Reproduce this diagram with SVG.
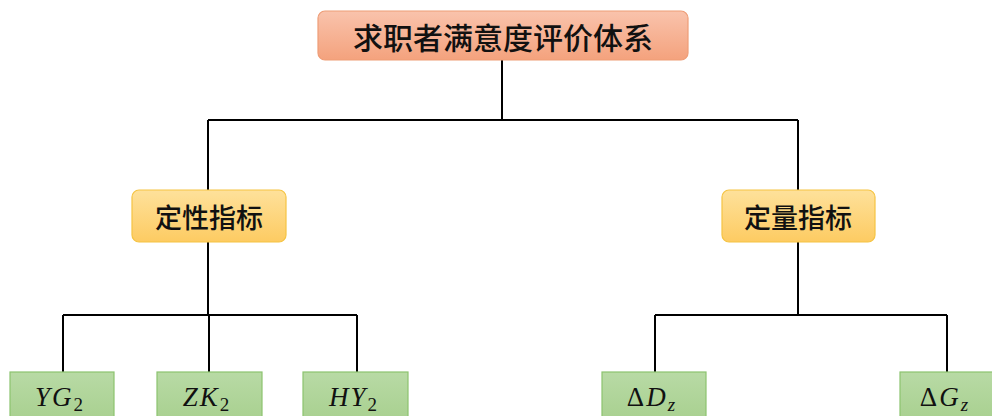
<svg xmlns="http://www.w3.org/2000/svg" width="992" height="416" viewBox="0 0 992 416">
<style>
.cn{font-family:"Noto Sans CJK SC","Noto Sans CJK JP",sans-serif;fill:#111;text-anchor:middle;dominant-baseline:central;font-weight:500}
.m{font-family:"Liberation Serif","DejaVu Serif",serif;font-style:italic;font-size:27px;fill:#111;text-anchor:middle;letter-spacing:2px}
.sub{font-size:19px}
.up{font-style:normal}
.line{stroke:#000;stroke-width:2;fill:none}
.leaf{fill:url(#gG);stroke:#8cc36f;stroke-width:1.2}
.mid{fill:url(#gY);stroke:#f5c443;stroke-width:1.2}
</style>
<defs>
<linearGradient id="gO" x1="0" y1="0" x2="0" y2="1"><stop offset="0" stop-color="#f9c3ac"/><stop offset="1" stop-color="#f4a27d"/></linearGradient>
<linearGradient id="gY" x1="0" y1="0" x2="0" y2="1"><stop offset="0" stop-color="#fee19b"/><stop offset="1" stop-color="#fdcb62"/></linearGradient>
<linearGradient id="gG" x1="0" y1="0" x2="0" y2="1"><stop offset="0" stop-color="#b8daa5"/><stop offset="1" stop-color="#a8d08f"/></linearGradient>
</defs>
<g id="connectors">
<path class="line" d="M502 60V120M208 120H798M208 120V190M798 120V190"/>
<path class="line" d="M208 242V315M63 315H357M63 315V372M209 315V372M357 315V372"/>
<path class="line" d="M798 242V315M655 315H947M655 315V372M947 315V372"/>
</g>
<g id="root">
<rect x="318" y="11" width="370" height="49" rx="7" fill="url(#gO)" stroke="#ee9d77" stroke-width="1.2"/>
<text class="cn" x="503" y="36" font-size="30">求职者满意度评价体系</text>
</g>
<g id="qual">
<rect class="mid" x="132" y="190" width="154" height="52" rx="7"/>
<text class="cn" x="209" y="216" font-size="27">定性指标</text>
</g>
<g id="quant">
<rect class="mid" x="722" y="190" width="153" height="52" rx="7"/>
<text class="cn" x="798" y="216" font-size="27">定量指标</text>
</g>
<g id="yg">
<rect class="leaf" x="10" y="372" width="104" height="50"/>
<text class="m" x="60" y="406">YG<tspan class="sub up" dy="5">2</tspan></text>
</g>
<g id="zk">
<rect class="leaf" x="157" y="372" width="105" height="50"/>
<text class="m" x="207" y="406">ZK<tspan class="sub up" dy="5">2</tspan></text>
</g>
<g id="hy">
<rect class="leaf" x="303" y="372" width="105" height="50"/>
<text class="m" x="354" y="406">HY<tspan class="sub up" dy="5">2</tspan></text>
</g>
<g id="dd">
<rect class="leaf" x="602" y="372" width="104" height="50"/>
<text class="m" x="652" y="406"><tspan class="up">Δ</tspan>D<tspan class="sub" dy="5">z</tspan></text>
</g>
<g id="dg">
<rect class="leaf" x="900" y="372" width="104" height="50"/>
<text class="m" x="945" y="406"><tspan class="up">Δ</tspan>G<tspan class="sub" dy="5">z</tspan></text>
</g>
</svg>
